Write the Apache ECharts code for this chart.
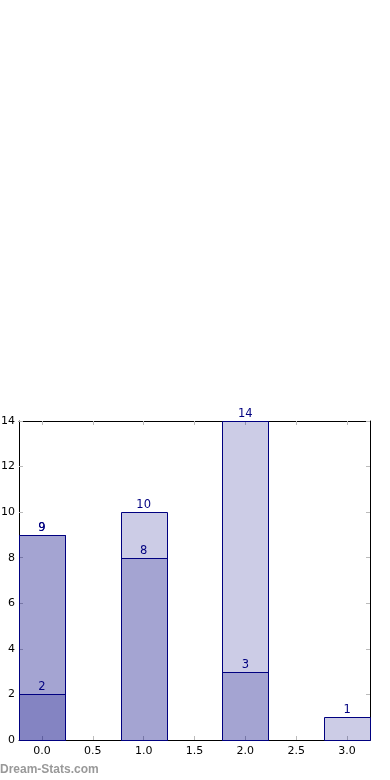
<!DOCTYPE html>
<html><head><meta charset="utf-8">
<script src="https://cdn.jsdelivr.net/npm/echarts@6/dist/echarts.min.js"></script>
<style>html,body{margin:0;padding:0;background:#fff}#c{width:390px;height:780px}</style>
</head><body><div id="c"></div>
<script>
var positions = [0, 1, 2, 3];
var seriesA = [9, 10, 14, 1];
var seriesB = [9, 8, 3, null];
var seriesC = [2, null, null, null];
var xTicks = [0, 0.5, 1, 1.5, 2, 2.5, 3];
var barHalfWidth = 0.225;

function pairs(vals) {
  return positions.map(function (p, i) { return [p, vals[i]]; })
    .filter(function (d) { return d[1] != null; });
}
function renderBar(params, api) {
  var x = api.value(0), y = api.value(1);
  var p0 = api.coord([x - barHalfWidth, y]);
  var p1 = api.coord([x + barHalfWidth, 0]);
  var cx = api.coord([x, y]);
  return {
    type: 'group',
    children: [{
      type: 'rect',
      shape: { x: Math.round(p0[0]) + 0.5, y: Math.round(p0[1]) + 0.5, width: Math.round(p1[0]) - Math.round(p0[0]), height: Math.round(p1[1]) - Math.round(p0[1]) },
      style: { fill: 'rgba(0,0,128,0.2)', stroke: '#000080', lineWidth: 1 }
    }, {
      type: 'text',
      x: cx[0], y: cx[1] - 1,
      style: { text: String(y), fill: '#000080', fontSize: 11.5, fontFamily: 'DejaVu Sans', align: 'center', verticalAlign: 'bottom' }
    }]
  };
}
function mkSeries(vals) {
  return {
    type: 'custom', xAxisIndex: 0, yAxisIndex: 0,
    data: pairs(vals), renderItem: renderBar, clip: false,
    encode: { x: 0, y: 1 },
    emphasis: { disabled: true }, animation: false
  };
}
var tickStyle = { show: true, inside: true, length: 4, lineStyle: { color: '#bbbbbb', width: 1 } };
var lineStyle = { show: true, onZero: false, lineStyle: { color: '#000', width: 1 } };
var chart = echarts.init(document.getElementById('c'), null, { renderer: 'canvas' });
chart.setOption({
  animation: false,
  grid: { left: 19, right: 20, top: 421, bottom: 40, containLabel: false, outerBoundsMode: 'none' },
  xAxis: [{
    type: 'value', min: -0.225, max: 3.225, position: 'bottom',
    splitLine: { show: false },
    axisLine: lineStyle,
    axisTick: Object.assign({ customValues: xTicks }, tickStyle),
    axisLabel: { customValues: xTicks, color: '#000', fontSize: 11, fontFamily: 'DejaVu Sans', margin: 6,
      formatter: function (v) { return v.toFixed(1); } }
  }, {
    type: 'value', min: -0.225, max: 3.225, position: 'top',
    splitLine: { show: false },
    axisLine: lineStyle,
    axisTick: Object.assign({ customValues: xTicks }, tickStyle),
    axisLabel: { show: false }
  }],
  yAxis: [{
    type: 'value', min: 0, max: 14, interval: 2, position: 'left',
    splitLine: { show: false },
    axisLine: lineStyle,
    axisTick: tickStyle,
    axisLabel: { color: '#000', fontSize: 11, fontFamily: 'DejaVu Sans', margin: 4 }
  }, {
    type: 'value', min: 0, max: 14, interval: 2, position: 'right',
    splitLine: { show: false },
    axisLine: lineStyle,
    axisTick: tickStyle,
    axisLabel: { show: false }
  }],
  graphic: [{
    type: 'text', left: 0, top: 764,
    style: { text: 'Dream-Stats.com', fill: '#999999', fontSize: 12, fontWeight: 'bold', fontFamily: 'Liberation Sans' }
  }],
  series: [mkSeries(seriesA), mkSeries(seriesB), mkSeries(seriesC)]
});
</script></body></html>
